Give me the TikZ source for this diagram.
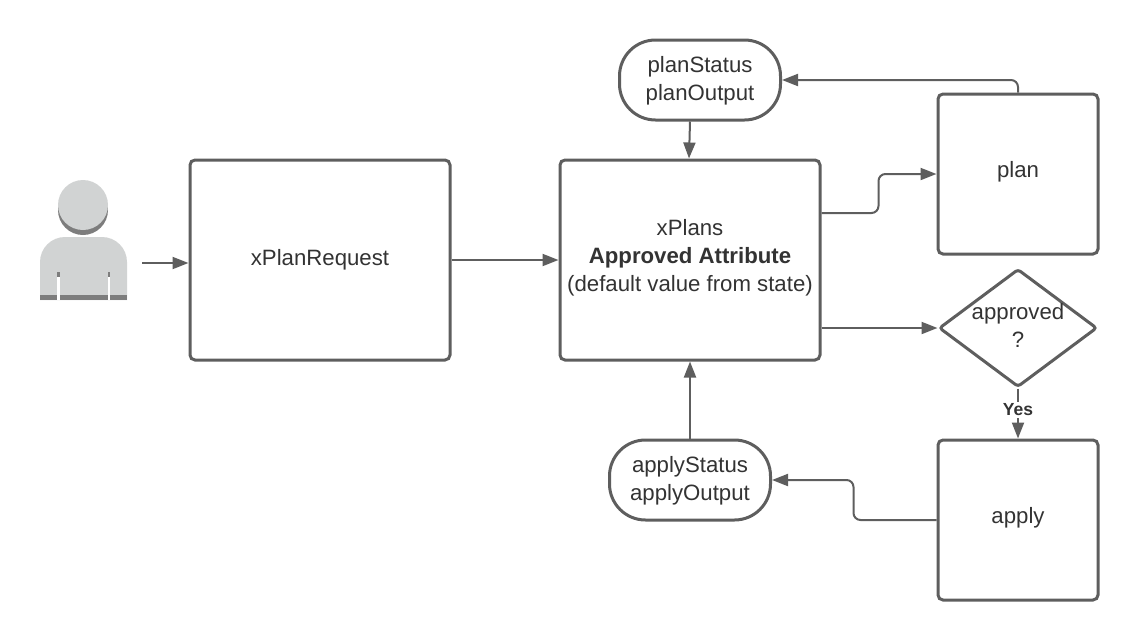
\documentclass[tikz,border=0pt]{standalone}
\usepackage{fontspec}
\setmainfont{Liberation Sans}
\usetikzlibrary{positioning}
\usetikzlibrary{arrows.meta}
\usetikzlibrary{shapes.geometric}
\definecolor{lineGray}{HTML}{5E5E5E}
\definecolor{textGray}{HTML}{333333}
\definecolor{userLight}{HTML}{D1D3D3}
\definecolor{userDark}{HTML}{7D7D7D}
\tikzset{x=1pt, y=1pt,
         >={Triangle[length=16pt,width=12pt]},
         every node/.style={text=textGray, font=\fontsize{22.2}{28}\selectfont, align=center},
         box/.style={draw=lineGray, line width=3pt, rounded corners=5pt, fill=white, minimum width=260pt, minimum height=200pt},
         task/.style={box, text depth=8.7pt, minimum width=160pt, minimum height=160pt},
         pill/.style={draw=lineGray, line width=3pt, rounded corners=36pt, fill=white, text depth=2.7pt, minimum width=161pt, minimum height=80pt},
         decision/.style={diamond, draw=lineGray, line width=3pt, rounded corners=3pt, fill=white, inner sep=0pt, aspect=1.34, text depth=4.2pt, minimum width=158pt, minimum height=118pt},
         yes/.style={fill=white, inner sep=2pt, font=\fontsize{17.5}{18}\selectfont\bfseries},
         every edge/.style={draw, ->, line width=2pt, lineGray},
         flow/.style={draw, ->, line width=2pt, lineGray, rounded corners=7pt} }

\begin{document}
\begin{tikzpicture}
    \useasboundingbox (0,0) rectangle (1138,-640);
    % user
    \fill[userDark] (83,-210) circle (25);
    \fill[userLight] (83,-205) circle (25);
    \fill[userLight] (40,-300) -- (40,-262) arc (180:90:25) -- (102,-237) arc (90:0:25) -- (127,-300) -- cycle;
    \fill[userDark] (40,-294.5) rectangle (127,-300);
    \fill[white] (57.3,-272) rectangle (60,-300);
    \fill[white] (107.5,-272) rectangle (110.3,-300);
    \fill[userDark] (57.3,-272) rectangle (60,-277);
    \fill[userDark] (107.5,-272) rectangle (110.3,-277);
    \coordinate (userOut) at (142,-263);

    \node[box] (xPlanRequest) at (320,-260) {xPlanRequest};
    \node[box, text depth=8.7pt, right of=xPlanRequest, node distance=370pt] (xPlans) {xPlans\\\textbf{Approved Attribute}\\(default value from state)};
    \node[task, right of=xPlans, node distance=328pt, yshift=86pt] (plan) {plan};
    \node[decision, right of=xPlans, node distance=328pt, yshift=-68pt] (approved) {approved\\?};
    \node[task, below of=approved, node distance=192pt] (apply) {apply};
    \node[pill, above of=xPlans, node distance=180pt, xshift=10pt] (planStatus) {planStatus\\planOutput};
    \node[pill, below of=xPlans, node distance=220pt] (applyStatus) {applyStatus\\applyOutput};

    \draw (userOut) edge (userOut -| xPlanRequest.west);
    \draw (xPlanRequest) edge (xPlans);
    \draw[flow] ([yshift=47pt]xPlans.east) -- ++(57,0) |- (plan.west);
    \draw (approved.west -| xPlans.east) edge (approved.west);
    \draw[flow] (plan.north) |- (planStatus.east);
    \draw (planStatus.south -| xPlans.north) edge ([xshift=-1pt]xPlans.north);
    \draw (approved) edge node[yes, pos=0.43] {Yes} (apply);
    \draw[flow] (apply.west) -- ++(-83,0) |- (applyStatus.east);
    \draw (applyStatus) edge (xPlans);
  \end{tikzpicture}
\end{document}
